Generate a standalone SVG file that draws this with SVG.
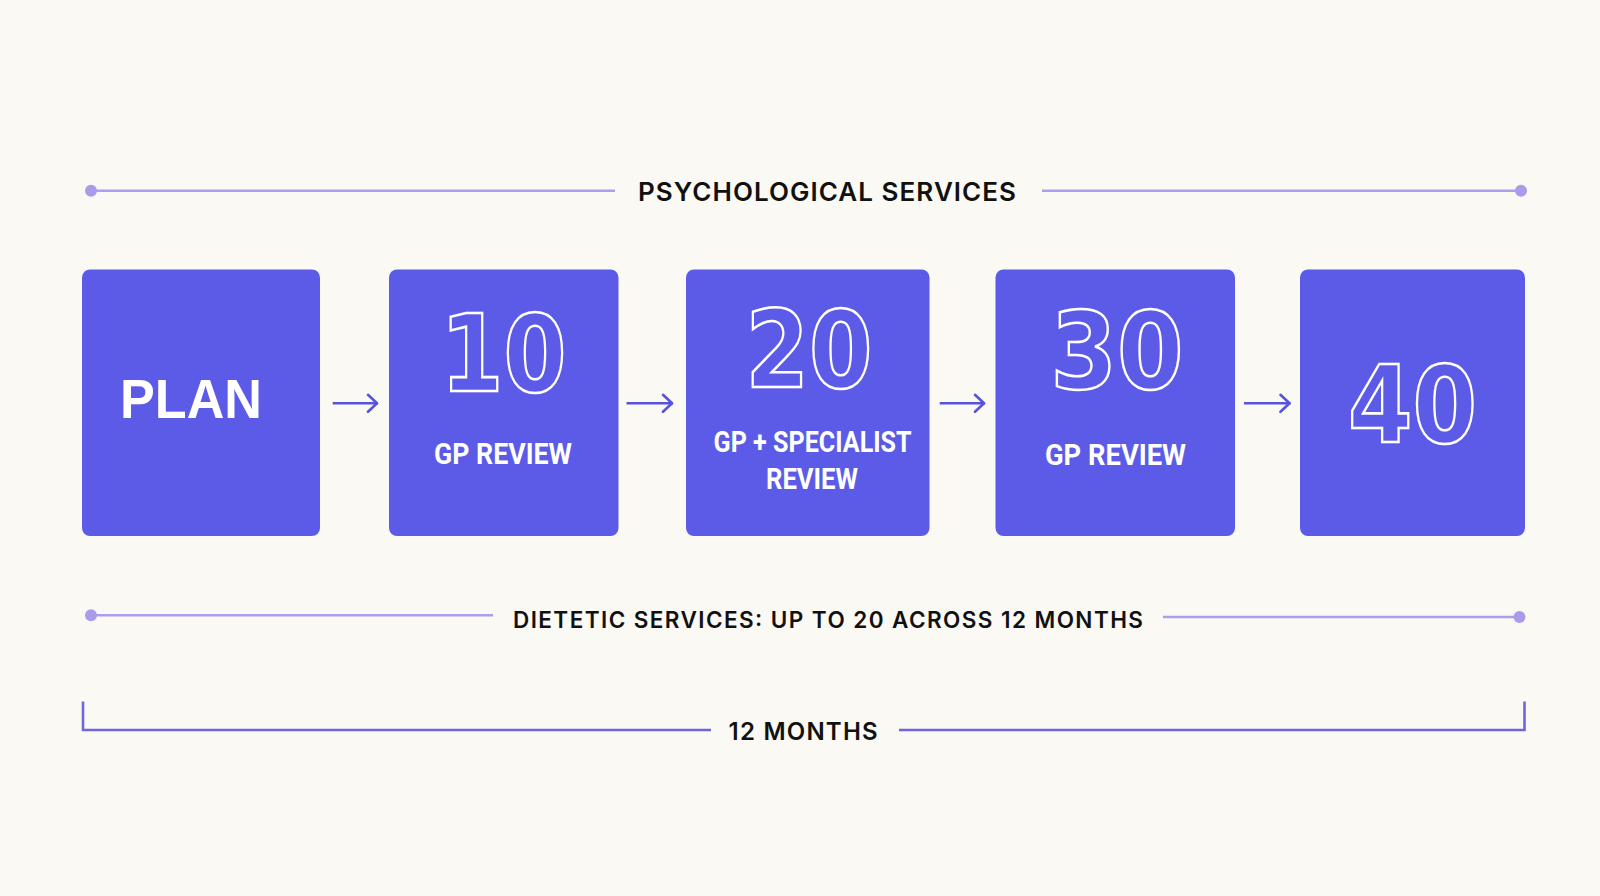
<svg xmlns="http://www.w3.org/2000/svg" width="1600" height="896" viewBox="0 0 1600 896">
<defs>
<style>
.bg{fill:#FBF9F4}
.box{fill:#5C5BE7}
.hd{font-family:Inter,"Liberation Sans",sans-serif;font-weight:600;fill:#111;}
.lbl{font-family:Roboto,"Liberation Sans",sans-serif;font-weight:700;fill:#fff;font-size:29px}
.num{font-family:"DejaVu Sans",sans-serif;font-weight:700;font-size:107px;fill:none;stroke:#fff;stroke-width:2.6;text-anchor:middle}
.plan{font-family:"Liberation Sans",Arial,sans-serif;font-weight:700;fill:#fff;font-size:55px}
.span{stroke:#A99FEE;stroke-width:2.5;fill:none}
.dot{fill:#A99CEB}
.arr{stroke:#5753DD;stroke-width:2.6;fill:none}
.brk{stroke:#6E66E0;stroke-width:2.6;fill:none}
</style>
<marker id="ah" markerUnits="userSpaceOnUse" markerWidth="20" markerHeight="24" refX="13" refY="10" orient="auto">
<path d="M3,1.5 L12,10 L3,18.5" fill="none" stroke="#5753DD" stroke-width="2.6" stroke-linecap="round" stroke-linejoin="round"/>
</marker>
</defs>
<rect class="bg" x="0" y="0" width="1600" height="896"/>

<g id="psychological-services">
<line class="span" x1="91" y1="190.7" x2="615" y2="190.7"/>
<line class="span" x1="1042" y1="190.7" x2="1521" y2="190.7"/>
<circle class="dot" cx="91" cy="190.7" r="6"/>
<circle class="dot" cx="1521" cy="190.7" r="6"/>
<text class="hd" x="638" y="201" font-size="26" textLength="378" lengthAdjust="spacing">PSYCHOLOGICAL SERVICES</text>
</g>

<g id="node-plan">
<rect class="box" x="82" y="269.5" width="238" height="266.5" rx="8"/>
<text class="plan" x="120" y="417.7" textLength="142" lengthAdjust="spacingAndGlyphs">PLAN</text>
</g>

<g id="node-10">
<rect class="box" x="389" y="269.5" width="229.5" height="266.5" rx="8"/>
<text class="num" x="503.5" y="390.5" textLength="126" lengthAdjust="spacingAndGlyphs">10</text>
<text class="lbl" x="434" y="463.5" textLength="138" lengthAdjust="spacingAndGlyphs">GP REVIEW</text>
</g>

<g id="node-20">
<rect class="box" x="686" y="269.5" width="243.5" height="266.5" rx="8"/>
<text class="num" x="809" y="386.5" textLength="127" lengthAdjust="spacingAndGlyphs">20</text>
<text class="lbl" x="713.6" y="451.7" textLength="198" lengthAdjust="spacingAndGlyphs">GP + SPECIALIST</text>
<text class="lbl" x="766" y="489" textLength="92" lengthAdjust="spacingAndGlyphs">REVIEW</text>
</g>

<g id="node-30">
<rect class="box" x="995.5" y="269.5" width="239.5" height="266.5" rx="8"/>
<text class="num" x="1117" y="388" textLength="133" lengthAdjust="spacingAndGlyphs">30</text>
<text class="lbl" x="1045" y="465" textLength="141" lengthAdjust="spacingAndGlyphs">GP REVIEW</text>
</g>

<g id="node-40">
<rect class="box" x="1300" y="269.5" width="225" height="266.5" rx="8"/>
<text class="num" x="1412.5" y="441.5" textLength="129" lengthAdjust="spacingAndGlyphs">40</text>
</g>

<g id="connectors">
<line class="arr" x1="332.7" y1="403.3" x2="378" y2="403.3" marker-end="url(#ah)"/>
<line class="arr" x1="626.5" y1="403.3" x2="673" y2="403.3" marker-end="url(#ah)"/>
<line class="arr" x1="939.7" y1="403.3" x2="985" y2="403.3" marker-end="url(#ah)"/>
<line class="arr" x1="1244" y1="403.3" x2="1290.5" y2="403.3" marker-end="url(#ah)"/>
</g>

<g id="dietetic-services">
<line class="span" x1="91" y1="615.2" x2="493" y2="615.2"/>
<line class="span" x1="1163" y1="617" x2="1519.5" y2="617"/>
<circle class="dot" cx="91" cy="615.2" r="6"/>
<circle class="dot" cx="1519.5" cy="617" r="6"/>
<text class="hd" x="513" y="627.7" font-size="22.5" textLength="630" lengthAdjust="spacing">DIETETIC SERVICES: UP TO 20 ACROSS 12 MONTHS</text>
</g>

<g id="twelve-months">
<path class="brk" d="M83,701.5 V730 H711"/>
<path class="brk" d="M899,730 H1524.5 V701.5"/>
<text class="hd" x="728.6" y="740" font-size="24" textLength="149" lengthAdjust="spacing">12 MONTHS</text>
</g>
</svg>
